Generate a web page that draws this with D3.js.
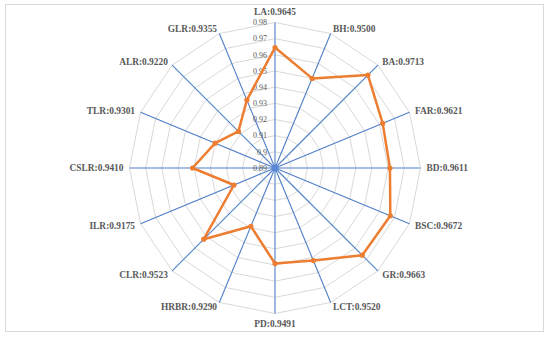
<!DOCTYPE html>
<html>
<head>
<meta charset="utf-8">
<script src="https://cdn.jsdelivr.net/npm/d3@7"></script>
<style>
  body { margin: 0; background: #fff; }
  svg { display: block; }
</style>
</head>
<body>
<div id="radar"></div>
<script>
// data
var features = ["LA", "BH", "BA", "FAR", "BD", "BSC", "GR", "LCT", "PD", "HRBR", "CLR", "ILR", "CSLR", "TLR", "ALR", "GLR"];
var scores = [0.9645, 0.9500, 0.9713, 0.9621, 0.9611, 0.9672, 0.9663, 0.9520, 0.9491, 0.9290, 0.9523, 0.9175, 0.9410, 0.9301, 0.9220, 0.9355];
var ticks = [0.89, 0.90, 0.91, 0.92, 0.93, 0.94, 0.95, 0.96, 0.97, 0.98];

var svgWidth = 550;
var svgHeight = 338;
var cx = 275, cy = 168, radius = 145.5;

var svg = d3.select("#radar")
  .append("svg")
  .attr("width", svgWidth)
  .attr("height", svgHeight);

// outer frame
svg.append("rect")
  .attr("x", 5.5).attr("y", 4.5)
  .attr("width", 538).attr("height", 327)
  .attr("fill", "none")
  .attr("stroke", "#d9d9d9")
  .attr("stroke-width", 1);

var chartGroup = svg.append("g")
  .attr("transform", `translate(${cx}, ${cy})`);

// scales
var rScale = d3.scaleLinear()
  .domain([0.89, 0.98])
  .range([0, radius]);

var angle = d3.scalePoint()
  .domain(features)
  .range([0, 2 * Math.PI * (features.length - 1) / features.length]);

function px(a, r) { return r * Math.sin(a); }
function py(a, r) { return -r * Math.cos(a); }

// grid rings
var ring = d3.lineRadial()
  .angle(d => angle(d))
  .curve(d3.curveLinearClosed);

chartGroup.append("g")
  .selectAll("path")
  .data(ticks.slice(1))
  .enter()
  .append("path")
  .attr("d", t => ring.radius(rScale(t))(features))
  .attr("fill", "none")
  .attr("stroke", "#d9d9d9")
  .attr("stroke-width", 1);

// spokes
chartGroup.append("g")
  .selectAll("line")
  .data(features)
  .enter()
  .append("line")
  .attr("x1", 0).attr("y1", 0)
  .attr("x2", d => px(angle(d), rScale(0.98)))
  .attr("y2", d => py(angle(d), rScale(0.98)))
  .attr("stroke", "#4f7fc9")
  .attr("stroke-width", 1.1);

chartGroup.append("circle")
  .attr("r", 3.5)
  .attr("fill", "#5a8ad3");

// tick labels
chartGroup.append("g")
  .selectAll("text")
  .data(ticks)
  .enter()
  .append("text")
  .attr("x", -8)
  .attr("y", d => -rScale(d))
  .attr("dy", "0.35em")
  .attr("text-anchor", "end")
  .attr("font-family", "'Liberation Serif', 'Times New Roman', serif")
  .attr("font-size", "8px")
  .attr("fill", "#595959")
  .text(d => d3.format("")(+d.toFixed(2)));

// score line
var scoreLine = d3.lineRadial()
  .angle((d, i) => angle(features[i]))
  .radius(d => rScale(d))
  .curve(d3.curveLinearClosed);

chartGroup.append("path")
  .attr("d", scoreLine(scores))
  .attr("fill", "none")
  .attr("stroke", "#ed7d31")
  .attr("stroke-width", 2.5)
  .attr("stroke-linejoin", "round");

chartGroup.append("g")
  .selectAll("circle")
  .data(scores)
  .enter()
  .append("circle")
  .attr("cx", (d, i) => px(angle(features[i]), rScale(d)))
  .attr("cy", (d, i) => py(angle(features[i]), rScale(d)))
  .attr("r", 2.6)
  .attr("fill", "#ed7d31");

// category labels
chartGroup.append("g")
  .selectAll("text")
  .data(features)
  .enter()
  .append("text")
  .attr("x", d => {
    var a = angle(d), r = rScale(0.98);
    return px(a, r) + Math.sin(a) * 6;
  })
  .attr("y", d => {
    var a = angle(d), r = rScale(0.98);
    var s = Math.abs(Math.sin(a));
    if (s < 0.01) return py(a, r) + (Math.cos(a) > 0 ? -11 : 10);
    return py(a, r) - Math.cos(a) * 5;
  })
  .attr("dy", "0.35em")
  .attr("text-anchor", d => {
    var s = Math.sin(angle(d));
    return Math.abs(s) < 0.01 ? "middle" : (s > 0 ? "start" : "end");
  })
  .attr("font-family", "'Liberation Serif', 'Times New Roman', serif")
  .attr("font-size", "9.4px")
  .attr("font-weight", "bold")
  .attr("fill", "#595959")
  .text((d, i) => `${d}:${scores[i].toFixed(4)}`);
</script>
</body>
</html>
